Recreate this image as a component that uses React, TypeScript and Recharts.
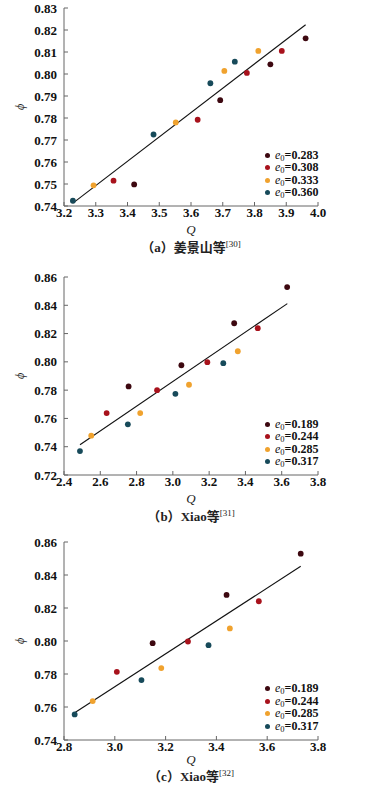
import React from 'react';
import { ComposedChart, Scatter, XAxis, YAxis } from 'recharts';

const seriesColors = ['#3d0810', '#a8121c', '#f0a22e', '#174a5a'];

// Panel (a) 姜景山等
const aLabels = ['0.283', '0.308', '0.333', '0.360'];
const aQ = [
  [3.421, 3.692, 3.85, 3.961],
  [3.356, 3.621, 3.776, 3.886],
  [3.293, 3.552, 3.705, 3.812],
  [3.228, 3.482, 3.661, 3.738],
];
const aPhi = [
  [0.7498, 0.7881, 0.8044, 0.8162],
  [0.7515, 0.7792, 0.8005, 0.8105],
  [0.7494, 0.778, 0.8014, 0.8105],
  [0.7424, 0.7725, 0.7958, 0.8056],
];
const aTrendQ = [3.227, 3.961];
const aTrendPhi = [0.7412, 0.8224];
const aXTicks = [3.2, 3.3, 3.4, 3.5, 3.6, 3.7, 3.8, 3.9, 4.0];
const aYTicks = [0.74, 0.75, 0.76, 0.77, 0.78, 0.79, 0.8, 0.81, 0.82, 0.83];

// Panel (b) Xiao等[31]
const bLabels = ['0.189', '0.244', '0.285', '0.317'];
const bQ = [
  [2.756, 3.047, 3.338, 3.63],
  [2.635, 2.913, 3.19, 3.468],
  [2.55, 2.82, 3.089, 3.358],
  [2.488, 2.752, 3.014, 3.278],
];
const bPhi = [
  [0.7826, 0.7976, 0.8273, 0.8529],
  [0.7638, 0.78, 0.7998, 0.8238],
  [0.7478, 0.7638, 0.7838, 0.8075],
  [0.7369, 0.7558, 0.7774, 0.7991],
];
const bTrendQ = [2.488, 3.631];
const bTrendPhi = [0.7414, 0.8412];
const bXTicks = [2.4, 2.6, 2.8, 3.0, 3.2, 3.4, 3.6, 3.8];
const bYTicks = [0.72, 0.74, 0.76, 0.78, 0.8, 0.82, 0.84, 0.86];

// Panel (c) Xiao等[32]
const cLabels = ['0.189', '0.244', '0.285', '0.317'];
const cQ = [
  [3.149, 3.44, 3.732],
  [3.008, 3.288, 3.567],
  [2.913, 3.183, 3.453],
  [2.842, 3.105, 3.369],
];
const cPhi = [
  [0.7987, 0.8279, 0.8529],
  [0.7813, 0.7997, 0.8241],
  [0.7636, 0.7836, 0.8076],
  [0.7555, 0.7763, 0.7975],
];
const cTrendQ = [2.842, 3.732];
const cTrendPhi = [0.7565, 0.8453];
const cXTicks = [2.8, 3.0, 3.2, 3.4, 3.6, 3.8];
const cYTicks = [0.74, 0.76, 0.78, 0.8, 0.82, 0.84, 0.86];

const SERIF = '"Liberation Serif", "Times New Roman", serif';
const CJK = '"Liberation Serif", "Noto Sans CJK SC", serif';

const panels = [
  {
    key: 'a', plotTop: 8, labels: aLabels, Q: aQ, Phi: aPhi, tQ: aTrendQ, tPhi: aTrendPhi,
    xTicks: aXTicks, yTicks: aYTicks, qY: 230, capY: 248, tag: 'a', capText: '姜景山等', ref: '[30]',
  },
  {
    key: 'b', plotTop: 277, labels: bLabels, Q: bQ, Phi: bPhi, tQ: bTrendQ, tPhi: bTrendPhi,
    xTicks: bXTicks, yTicks: bYTicks, qY: 499, capY: 517, tag: 'b', capText: 'Xiao等', ref: '[31]',
  },
  {
    key: 'c', plotTop: 541.5, labels: cLabels, Q: cQ, Phi: cPhi, tQ: cTrendQ, tPhi: cTrendPhi,
    xTicks: cXTicks, yTicks: cYTicks, qY: 760, capY: 777, tag: 'c', capText: 'Xiao等', ref: '[32]',
  },
];

const Dot = (props: any) => {
  const { cx, cy, fill } = props;
  if (cx == null || cy == null) return <g />;
  return <circle cx={cx} cy={cy} r={2.9} fill={fill} />;
};

const NoShape = () => <g />;

const tickStyle = { fill: '#111', fontSize: 13, fontFamily: SERIF, fontWeight: 700 };

function Panel({ p }: { p: any }) {
  const series = p.Q.map((qs: number[], i: number) =>
    qs.map((q: number, j: number) => ({ x: q, y: p.Phi[i][j] }))
  );
  const trend = p.tQ.map((q: number, j: number) => ({ x: q, y: p.tPhi[j] }));
  const xDom = [p.xTicks[0], p.xTicks[p.xTicks.length - 1]];
  const yDom = [p.yTicks[0], p.yTicks[p.yTicks.length - 1]];
  return (
    <>
      <div style={{ position: 'absolute', left: 0, top: p.plotTop - 10, width: 383, height: 250 }}>
        <ComposedChart width={383} height={250} margin={{ top: 10, right: 65, bottom: 22, left: 0 }}>
          <XAxis
            type="number"
            dataKey="x"
            domain={xDom}
            ticks={p.xTicks}
            interval={0}
            allowDataOverflow
            tickFormatter={(v: number) => v.toFixed(1)}
            tickSize={-4}
            tickMargin={6}
            height={20}
            stroke="#666"
            tick={tickStyle}
          />
          <YAxis
            type="number"
            dataKey="y"
            domain={yDom}
            ticks={p.yTicks}
            interval={0}
            allowDataOverflow
            tickFormatter={(v: number) => v.toFixed(2)}
            tickSize={-4}
            tickMargin={11}
            width={64}
            stroke="#666"
            tick={tickStyle}
          />
          <Scatter
            data={trend}
            line={{ stroke: '#111', strokeWidth: 1.1 }}
            shape={NoShape}
            isAnimationActive={false}
          />
          {series.map((pts: any[], i: number) => (
            <Scatter
              key={i}
              data={pts}
              fill={seriesColors[i]}
              shape={Dot}
              isAnimationActive={false}
            />
          ))}
        </ComposedChart>
      </div>
      {/* phi label */}
      <div
        style={{
          position: 'absolute', left: 13, top: p.plotTop + 92, width: 14, height: 14,
          fontFamily: SERIF, fontStyle: 'italic', fontSize: 12, color: '#222',
          transform: 'rotate(-90deg)', textAlign: 'center', lineHeight: '14px',
        }}
      >
        ϕ
      </div>
      {/* Q label */}
      <div
        style={{
          position: 'absolute', left: 171, width: 40, top: p.qY - 8, height: 16, lineHeight: '16px',
          textAlign: 'center', fontFamily: SERIF, fontStyle: 'italic', fontSize: 13, color: '#222',
        }}
      >
        Q
      </div>
      {/* caption */}
      <div
        style={{
          position: 'absolute', left: 91, width: 200, top: p.capY - 8, height: 16, lineHeight: '16px',
          textAlign: 'center', fontFamily: CJK, fontWeight: 700, fontSize: 13, color: '#222',
          whiteSpace: 'nowrap',
        }}
      >
        （{p.tag}）{p.capText}
        <span style={{ fontSize: 9, fontWeight: 400, position: 'relative', top: -5 }}>{p.ref}</span>
      </div>
      {/* legend */}
      {p.labels.map((lab: string, i: number) => (
        <div
          key={lab}
          style={{
            position: 'absolute', left: 265, top: p.plotTop + 147 + i * 12.6 - 6, height: 12,
            lineHeight: '12px', whiteSpace: 'nowrap', fontFamily: SERIF, fontSize: 12, color: '#111',
            display: 'flex', alignItems: 'center',
          }}
        >
          <span
            style={{
              display: 'inline-block', width: 5, height: 5, borderRadius: 3,
              background: seriesColors[i], marginRight: 5,
            }}
          />
          <span>
            <i>e</i>
            <span style={{ fontSize: 8.5, position: 'relative', top: 2 }}>0</span>
            <b>={lab}</b>
          </span>
        </div>
      ))}
    </>
  );
}

export default function App() {
  return (
    <div style={{ position: 'absolute', left: 0, top: 0, width: 383, height: 788, background: '#fff', overflow: 'hidden' }}>
      {panels.map((p) => (
        <Panel key={p.key} p={p} />
      ))}
    </div>
  );
}
